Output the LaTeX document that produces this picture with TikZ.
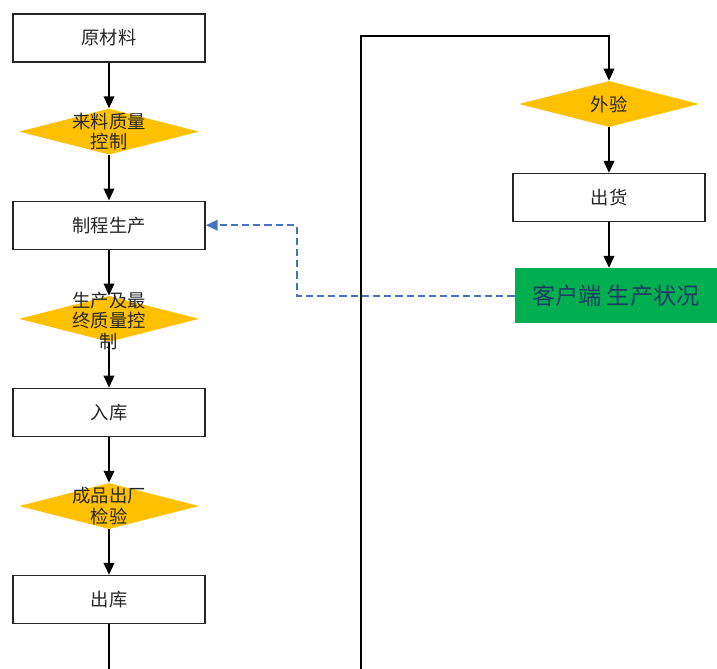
\documentclass[tikz,border=0pt]{standalone}
\usepackage{fontspec}
\newfontfamily\cjk{Noto Sans CJK SC}
\usetikzlibrary{arrows.meta,positioning,shapes.geometric}
\definecolor{gateyellow}{RGB}{255,192,0}
\definecolor{statusgreen}{RGB}{0,176,80}
\definecolor{statusnavy}{RGB}{31,56,100}
\definecolor{backblue}{RGB}{68,114,196}

\begin{document}
\begin{tikzpicture}[x=0.025cm, y=-0.025cm, node distance=11.4mm,
  every node/.style={font=\cjk\fontsize{13}{14.6}\selectfont, text=black!85},
  stepbox/.style={draw=black!85, line width=1pt, fill=white, inner sep=0pt,
                  minimum width=48mm, minimum height=12mm},
  gate/.style={diamond, fill=gateyellow, inner sep=0pt,
               minimum width=45mm, minimum height=11.5mm},
  gatetext/.style={align=center, inner sep=0pt},
  status/.style={fill=statusgreen, minimum width=50.5mm, minimum height=13.8mm,
                 font=\cjk\fontsize{16.5}{19}\selectfont, text=statusnavy},
  ar/.style={-{Triangle[length=3mm,width=2.6mm]}, line width=1.6pt},
  back/.style={-{Triangle[length=3mm,width=2.6mm]}, backblue, line width=1.6pt,
               dash pattern=on 1.8mm off 1mm}]
\useasboundingbox (0,0) rectangle (717,669);

% left column: incoming material down to shipping
\node[stepbox] (raw) at (109,38) {原材料};
\node[gate,below=of raw] (qc1) {};
\node[stepbox,below=of qc1] (make) {制程生产};
\node[gate,below=of make] (qc2) {};
\node[stepbox,below=of qc2] (stock) {入库};
\node[gate,below=of stock] (qc3) {};
\node[stepbox,below=of qc3] (ship) {出库};

\node[gatetext] (qc1t) at (qc1) {来料质量\\控制};
\node[gatetext] (qc2t) at ([yshift=-0.5mm]qc2) {生产及最\\终质量控\\制};
\node[gatetext] (qc3t) at (qc3) {成品出厂\\检验};

% right column: customer side
\node[gate] (outqc) at (609,104) {};
\node[gatetext] (outqct) at (outqc) {外验};
\node[stepbox,below=of outqc] (deliver) {出货};
\node[status,below=of deliver,xshift=1.75mm] (client) {客户端 生产状况};

\foreach \a/\b in {raw/qc1,qc1/make,make/qc2,qc2/stock,stock/qc3,qc3/ship,outqc/deliver}
  \draw[ar] (\a) -- (\b);
\draw[ar] (deliver) -- (deliver.south |- client.north);

% the loop leaves the page at the bottom and comes back up on the right
\coordinate (leave) at (109,669);
\coordinate (loopin) at (361,669);
\coordinate (looptop) at (361,36);
\draw[line width=1.6pt] (ship) -- (leave);
\draw[ar] (loopin) -- (looptop) -| (outqc);

% feedback from the customer to production
\draw[back] (client.west) -- ++(-218,0) |- (make);
\end{tikzpicture}
\end{document}
